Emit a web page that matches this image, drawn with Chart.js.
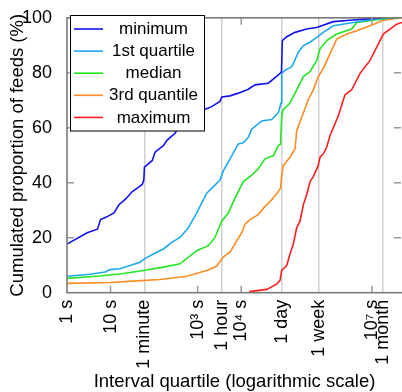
<!DOCTYPE html>
<html><head><meta charset="utf-8">
<script src="https://cdn.jsdelivr.net/npm/chart.js@4.4.0/dist/chart.umd.min.js"></script>
<style>html,body{margin:0;padding:0;background:#fff;overflow:hidden}#wrap{position:relative;width:402px;height:392px}</style>
</head><body><div id="wrap"><canvas id="c" width="402" height="392"></canvas></div>
<script>
const seriesNames = ['minimum', '1st quartile', 'median', '3rd quantile', 'maximum'];

const minimumX = [1, 2.9, 5.0, 5.9, 8, 12, 15.6, 22, 31.6, 45, 53.5, 58, 60, 91, 105, 163, 200, 302, 468, 794, 1400, 2000, 3260, 3600, 5530, 8580, 14550, 20750, 41900, 71100, 84100, 87900, 111000, 172000, 319000, 542000, 1300000, 3150000, 10800000, 18000000];
const minimumY = [17.7, 21.8, 23.1, 26.6, 27.5, 29.0, 32.0, 34.0, 36.8, 38.5, 39.4, 41.0, 45.7, 48.1, 51.1, 53.5, 55.5, 58.0, 63.0, 66.0, 66.6, 67.5, 69.6, 71.2, 71.6, 72.6, 74.0, 75.6, 76.2, 79.2, 80.4, 91.7, 93.1, 94.7, 95.9, 96.5, 98.6, 99.1, 99.8, 100];

const quartile1X = [1, 3.4, 7.5, 9.7, 16.5, 28, 47.5, 62, 96, 163, 254, 394, 610, 951, 1614, 2290, 3260, 3880, 6050, 8580, 11170, 14550, 17400, 29600, 50100, 71100, 82000, 85100, 101000, 144000, 157000, 205000, 267000, 380000, 542000, 768000, 1300000, 3750000, 10800000, 18000000, 35000000];
const quartile1Y = [6.0, 6.7, 7.5, 8.4, 8.7, 9.9, 11.1, 12.5, 14.1, 15.9, 18.3, 20.1, 23.6, 29.0, 36.2, 38.6, 41.0, 44.3, 49.8, 54.1, 54.5, 56.5, 59.5, 62.5, 63.0, 65.4, 69.0, 79.8, 80.9, 82.2, 83.3, 87.5, 89.9, 91.1, 92.9, 94.7, 97.1, 98.3, 99.5, 99.8, 100];

const medianX = [1, 5.7, 18, 56.5, 163, 394, 951, 1760, 2500, 3565, 5060, 7210, 11170, 17400, 24700, 35200, 54600, 71100, 80000, 85000, 92700, 132000, 172000, 267000, 380000, 542000, 645000, 918000, 1560000, 3440000, 4490000, 10800000, 21900000, 40000000];
const medianY = [5.2, 6.1, 6.9, 8.1, 9.3, 10.5, 15.3, 17.1, 20.1, 26.0, 29.0, 34.4, 40.4, 42.8, 45.1, 48.7, 49.9, 53.5, 54.0, 64.3, 66.6, 69.0, 72.6, 78.6, 80.4, 84.5, 88.7, 91.7, 94.1, 95.9, 98.3, 99.1, 99.8, 100];

const quartile3X = [1, 9.7, 39.8, 137, 561, 1614, 2740, 3565, 4250, 5530, 7890, 10270, 12200, 15900, 24700, 35200, 50100, 71100, 80000, 85000, 92700, 132000, 172000, 188000, 267000, 347000, 453000, 589000, 768000, 1090000, 1560000, 2650000, 4490000, 9070000, 18300000, 37200000, 49000000];
const quartile3Y = [3.4, 3.7, 4.3, 4.8, 6.0, 8.1, 9.6, 12.3, 13.5, 14.7, 18.9, 21.8, 24.9, 26.6, 28.4, 31.4, 33.8, 36.8, 38.0, 42.8, 46.3, 49.3, 52.3, 58.9, 65.4, 70.2, 73.8, 78.6, 81.6, 86.9, 92.3, 94.1, 95.3, 97.1, 99.1, 99.8, 100];

const maximumX = [15300, 38500, 65300, 78000, 85100, 111000, 132000, 157000, 188000, 224000, 267000, 319000, 380000, 453000, 589000, 645000, 768000, 918000, 1090000, 1690000, 2420000, 3440000, 5350000, 9070000, 14100000, 18300000, 26100000, 37200000, 49200000];
const maximumY = [0.4, 1.2, 3.1, 4.5, 8.1, 9.9, 14.1, 17.7, 23.6, 26.0, 32.0, 35.6, 40.4, 42.2, 46.3, 49.3, 50.5, 52.9, 57.1, 64.3, 72.0, 73.8, 79.8, 84.5, 90.5, 94.1, 95.9, 97.7, 98.3];

const xTickValues = [1, 10, 60, 1000, 3600, 10000, 86400, 604800, 10000000, 18144000];
const xTickLabels = ['1 s', '10 s', '1 minute', '10³ s', '1 hour', '10⁴ s', '1 day', '1 week', '10⁷ s', '1 month'];
const xGridValues = [60, 3600, 86400, 604800, 18144000];
const yTickValues = [0, 20, 40, 60, 80, 100];

const seriesColors = ['#1212f0', '#1eaaf0', '#22e622', '#ff8c22', '#ff1e1e'];
const FONT = '"Liberation Sans", Arial, sans-serif';

const allX = [minimumX, quartile1X, medianX, quartile3X, maximumX];
const allY = [minimumY, quartile1Y, medianY, quartile3Y, maximumY];

const datasets = seriesNames.map((name, i) => ({
  label: name,
  data: allX[i].map((x, j) => ({ x: x, y: allY[i][j] })),
  borderColor: seriesColors[i],
  borderWidth: 1.6,
  pointRadius: 0,
  fill: false,
  tension: 0
}));

const framePlugin = {
  id: 'frame',
  afterDatasetsDraw(chart) {
    const { ctx, chartArea: a, scales } = chart;
    const xs = scales.x, ys = scales.y;
    ctx.save();
    ctx.strokeStyle = '#9a9a9a';
    ctx.lineWidth = 1.5;
    ctx.beginPath();
    xTickValues.forEach(v => {
      if (v === 1 || xGridValues.includes(v)) return;
      const px = xs.getPixelForValue(v);
      ctx.moveTo(px, a.top); ctx.lineTo(px, a.top + 7);
      ctx.moveTo(px, a.bottom); ctx.lineTo(px, a.bottom - 7);
    });
    yTickValues.forEach(v => {
      if (v === 0 || v === 100) return;
      const py = ys.getPixelForValue(v);
      ctx.moveTo(a.left, py); ctx.lineTo(a.left + 7, py);
      ctx.moveTo(a.right - 1, py); ctx.lineTo(a.right - 8, py);
    });
    ctx.stroke();
    ctx.strokeStyle = '#7a7a7a';
    ctx.lineWidth = 1.6;
    ctx.strokeRect(a.left, a.top, a.right - a.left + 2, a.bottom - a.top);
    const lx = 70.5, ly = 15.5, lw = 134, lh = 115.5;
    ctx.fillStyle = '#fff';
    ctx.fillRect(lx, ly, lw, lh);
    ctx.strokeStyle = '#000';
    ctx.lineWidth = 1;
    ctx.strokeRect(lx, ly, lw, lh);
    ctx.font = '17px ' + FONT;
    ctx.textAlign = 'center';
    ctx.textBaseline = 'middle';
    chart.data.datasets.forEach((d, i) => {
      const ry = 29 + i * 22.1;
      ctx.strokeStyle = d.borderColor;
      ctx.lineWidth = 1.6;
      ctx.beginPath();
      ctx.moveTo(74, ry); ctx.lineTo(103, ry);
      ctx.stroke();
      ctx.fillStyle = '#000';
      ctx.fillText(d.label, 153.5, ry + 0.5);
    });
    ctx.restore();
  }
};

new Chart(document.getElementById('c'), {
  type: 'line',
  data: { datasets: datasets },
  plugins: [framePlugin],
  options: {
    responsive: false,
    animation: false,
    devicePixelRatio: 1,
    layout: { padding: { top: 13.5, right: 0, left: 0, bottom: 0 } },
    plugins: { legend: { display: false }, tooltip: { enabled: false } },
    scales: {
      x: {
        type: 'logarithmic',
        min: 1,
        max: 4.92e7,
        afterBuildTicks: s => { s.ticks = xTickValues.map(v => ({ value: v })); },
        afterFit: s => { s.height = 99.3; s.paddingRight = 0; s.paddingLeft = 0; },
        grid: {
          drawTicks: false,
          lineWidth: 1.5,
          color: c => (c.tick && xGridValues.includes(c.tick.value)) ? '#d0d0d0' : 'rgba(0,0,0,0)'
        },
        border: { display: false },
        ticks: {
          autoSkip: false,
          minRotation: 90,
          maxRotation: 90,
          padding: 7,
          color: '#000',
          font: { family: FONT, size: 18 },
          callback: (v, i) => xTickLabels[i]
        },
        title: {
          display: true,
          text: 'Interval quartile (logarithmic scale)',
          color: '#000',
          font: { family: FONT, size: 18.5 },
          padding: { top: 0, bottom: -1 }
        }
      },
      y: {
        min: 0,
        max: 100,
        afterBuildTicks: s => { s.ticks = yTickValues.map(v => ({ value: v })); },
        afterFit: s => { s.width = 67; },
        grid: { display: false },
        border: { display: false },
        ticks: {
          padding: 7,
          color: '#000',
          font: { family: FONT, size: 18 }
        },
        title: {
          display: true,
          text: 'Cumulated proportion of feeds (%)',
          color: '#000',
          font: { family: FONT, size: 18.5 },
          padding: { top: 6.5, bottom: 0 }
        }
      }
    }
  }
});
</script>
</body></html>
